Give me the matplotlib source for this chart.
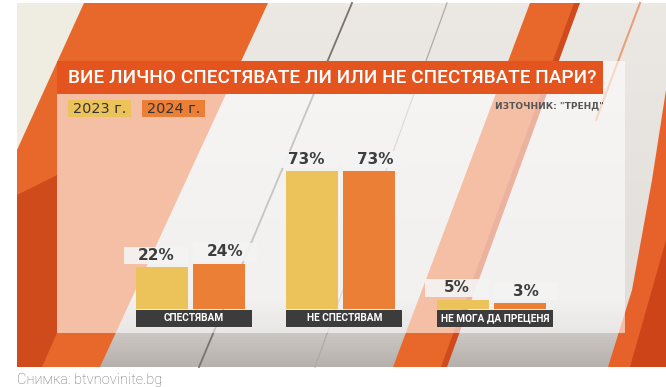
import numpy as np
import matplotlib
matplotlib.use('Agg')
import matplotlib.pyplot as plt
from matplotlib.patches import Polygon, Rectangle

# данни
categories = ['СПЕСТЯВАМ', 'НЕ СПЕСТЯВАМ', 'НЕ МОГА ДА ПРЕЦЕНЯ']
years = ['2023 г.', '2024 г.']
values_2023 = [22, 73, 5]
values_2024 = [24, 73, 3]
title = 'ВИЕ ЛИЧНО СПЕСТЯВАТЕ ЛИ ИЛИ НЕ СПЕСТЯВАТЕ ПАРИ?'
source = 'ИЗТОЧНИК: "ТРЕНД"'
caption = 'Снимка: btvnovinite.bg'

yellow = '#ecc35a'
orange = '#ec7f36'

W, H = 666, 387
fig = plt.figure(figsize=(W / 100, H / 100), dpi=100)
fig.patch.set_facecolor('white')

# фон (координати в пиксели)
bg = fig.add_axes([0, 0, 1, 1])
bg.set_xlim(0, W)
bg.set_ylim(H, 0)
bg.axis('off')

yy = np.linspace(3, 367, 120)
r = np.interp(yy, [3, 300, 333, 367], [236, 226, 205, 182])
g = np.interp(yy, [3, 300, 333, 367], [233, 222, 200, 177])
b = np.interp(yy, [3, 300, 333, 367], [229, 218, 195, 172])
grad = np.stack([r, g, b], axis=1)[:, None, :] / 255.0
bg.imshow(grad, extent=(17, W, 367, 3), aspect='auto', zorder=0)

stripes = [
    ([(17, 3), (84, 3), (17, 150)], '#efece1'),
    ([(84, 3), (268, 3), (100, 367), (17, 367), (17, 150)], '#e8672b'),
    ([(17, 195), (57, 175), (57, 333), (42, 367), (17, 367)], '#d04b1c'),
    ([(530, 3), (577, 3), (442, 367), (393, 367)], '#e8672b'),
    ([(574, 3), (580, 3), (447, 367), (441, 367)], '#cf4a1c'),
    ([(666, 90), (666, 367), (608, 367), (632, 290), (652, 180)], '#e6622a'),
    ([(666, 240), (666, 367), (630, 367)], '#cc4418'),
]
for pts, col in stripes:
    bg.add_patch(Polygon(pts, closed=True, facecolor=col, edgecolor='none', zorder=1))

bg.plot([352, 199], [3, 367], color='#7a736e', lw=1.3, zorder=2)
bg.plot([447, 315], [3, 367], color='#b0aaa5', lw=0.9, zorder=2)
bg.plot([640, 596], [3, 120], color='#e9a07a', lw=1.5, zorder=2)

# панел и заглавие
bg.add_patch(Rectangle((57, 61), 568, 272, facecolor='white', alpha=0.58,
                       edgecolor='none', zorder=3))
bg.add_patch(Rectangle((57, 61), 546, 33, facecolor='#e4541f', edgecolor='none', zorder=4))
bg.text(68, 78, title, color='white', fontsize=13.7, family='Roboto', fontweight='medium',
        ha='left', va='center', zorder=5)

leg_x = [68, 142]
for i, (lab, col) in enumerate(zip(years, [yellow, orange])):
    bg.add_patch(Rectangle((leg_x[i], 100), 63, 17, facecolor=col, edgecolor='none', zorder=4))
    bg.text(leg_x[i] + 31.5, 109, lab, color='#333333', fontsize=10.4,
            ha='center', va='center', zorder=5)

bg.text(604, 106, source, color='#555555', fontsize=6.5, fontweight='bold',
        ha='right', va='center', zorder=5)

bg.text(17, 380, caption, color='#6e6e6e', fontsize=10.5, family='Roboto',
        fontweight='light', ha='left', va='center')

# графика със стълбове
ax = fig.add_axes([100 / W, 1 - 330 / H, 490 / W, 200 / H])
ax.set_xlim(-0.601, 2.655)
ax.set_ylim(-11.11, 94.71)
ax.axis('off')
ax.patch.set_alpha(0)

x = np.arange(len(categories))
bw = 0.3455
off = 0.1894
ax.bar(x - off, values_2023, width=bw, color=yellow, zorder=2)
ax.bar(x + off, values_2024, width=bw, color=orange, zorder=2)

for xi, v, sgn in [(a, b, -1) for a, b in zip(x, values_2023)] + \
                  [(a, b, 1) for a, b in zip(x, values_2024)]:
    cx = xi + sgn * off + sgn * 0.04
    ax.add_patch(Rectangle((cx - 0.2125, v + 1.6), 0.425, 9.26,
                           facecolor='#f4f4f4', alpha=0.92, edgecolor='none', zorder=3))
    ax.text(cx, v + 6.2, f'{v}%', fontsize=11, fontweight='bold', color='#3d3d3d',
            ha='center', va='center', zorder=4)

for xi, cat in zip(x, categories):
    ax.add_patch(Rectangle((xi - 0.362, -9.52), 0.771, 9.0,
                           facecolor='#3c3c3c', edgecolor='none', zorder=3))
    ax.text(xi + 0.023, -5.0, cat, fontsize=7.3, family='Roboto', fontweight='bold',
            color='white', ha='center', va='center', zorder=4)

plt.savefig('out.png', dpi=100)
